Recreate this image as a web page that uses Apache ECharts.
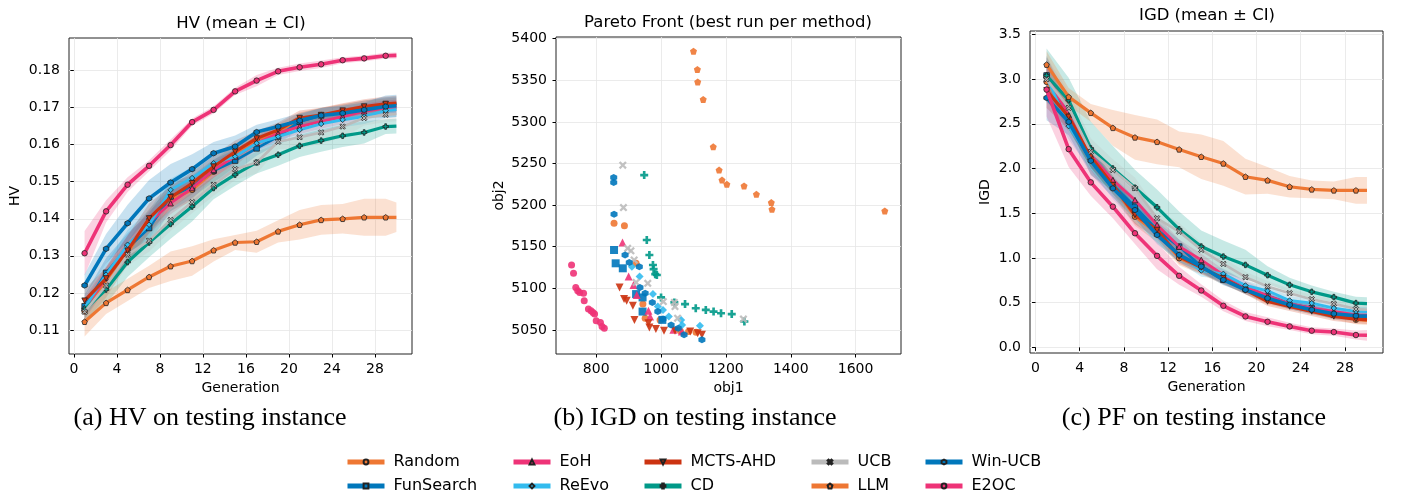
<!DOCTYPE html>
<html>
<head>
<meta charset="utf-8">
<title>HV / Pareto Front / IGD</title>
<script src="https://cdn.jsdelivr.net/npm/echarts@6/dist/echarts.min.js"></script>
<style>
html,body{margin:0;padding:0;background:#fff;}
#main{width:1401px;height:501px;}
</style>
</head>
<body>
<div id="main"></div>
<script>
// 方法名 / 颜色 / 标记
var methods = ['Random','FunSearch','EoH','ReEvo','MCTS-AHD','CD','UCB','LLM','Win-UCB','E2OC'];
var methodColors = ['#EE7733','#0077BB','#EE3377','#33BBEE','#CC3311','#009988','#BBBBBB','#EE7733','#0077BB','#EE3377'];

// generation (markers every 2 generations, the line runs on to 30)
var generations = [1,3,5,7,9,11,13,15,17,19,21,23,25,27,29,30];
var genTicks = [0,4,8,12,16,20,24,28];
var hvTicks = [0.11,0.12,0.13,0.14,0.15,0.16,0.17,0.18];
var igdTicks = [0,0.5,1,1.5,2,2.5,3,3.5];
var obj1Ticks = [800,1000,1200,1400,1600];
var obj2Ticks = [5050,5100,5150,5200,5250,5300,5350,5400];

// HV mean
var hvRandom    = [0.1150,0.1227,0.1308,0.1397,0.1451,0.1478,0.1527,0.1572,0.1613,0.1636,0.1667,0.1680,0.1690,0.1699,0.1705,0.1707];
var hvFunSearch = [0.1164,0.1254,0.1321,0.1375,0.1460,0.1487,0.1530,0.1557,0.1590,0.1622,0.1662,0.1679,0.1688,0.1699,0.1708,0.1710];
var hvEoH       = [0.1159,0.1240,0.1326,0.1390,0.1442,0.1483,0.1532,0.1568,0.1604,0.1631,0.1649,0.1663,0.1676,0.1690,0.1699,0.1701];
var hvReEvo     = [0.1159,0.1249,0.1330,0.1384,0.1478,0.1510,0.1550,0.1568,0.1604,0.1622,0.1640,0.1656,0.1667,0.1676,0.1692,0.1695];
var hvMcts      = [0.1179,0.1239,0.1314,0.1401,0.1458,0.1496,0.1541,0.1581,0.1617,0.1640,0.1672,0.1680,0.1692,0.1703,0.1710,0.1712];
var hvCD        = [0.1155,0.1209,0.1283,0.1336,0.1386,0.1433,0.1483,0.1519,0.1552,0.1573,0.1597,0.1611,0.1624,0.1633,0.1649,0.1650];
var hvUCB       = [0.1149,0.1220,0.1303,0.1341,0.1397,0.1445,0.1492,0.1534,0.1552,0.1608,0.1620,0.1633,0.1649,0.1672,0.1681,0.1683];
var hvLLM       = [0.1122,0.1173,0.1208,0.1243,0.1272,0.1286,0.1315,0.1336,0.1338,0.1366,0.1384,0.1397,0.1400,0.1404,0.1404,0.1404];
var hvWinUCB    = [0.1220,0.1319,0.1388,0.1455,0.1498,0.1534,0.1577,0.1595,0.1634,0.1649,0.1665,0.1679,0.1685,0.1694,0.1703,0.1705];
var hvE2OC      = [0.1307,0.1420,0.1492,0.1543,0.1599,0.1661,0.1694,0.1744,0.1773,0.1798,0.1809,0.1817,0.1828,0.1833,0.1840,0.1841];

// HV CI half width
var hvRandomCi    = [0.003,0.004,0.003,0.003,0.003,0.003,0.003,0.003,0.002,0.002,0.002,0.002,0.002,0.002,0.002,0.002];
var hvFunSearchCi = [0.003,0.004,0.004,0.004,0.004,0.003,0.003,0.003,0.002,0.002,0.002,0.002,0.002,0.002,0.002,0.002];
var hvEoHCi       = [0.003,0.003,0.003,0.003,0.003,0.003,0.002,0.002,0.002,0.002,0.002,0.002,0.002,0.002,0.002,0.002];
var hvReEvoCi     = [0.003,0.003,0.004,0.004,0.003,0.003,0.003,0.002,0.002,0.002,0.002,0.002,0.002,0.002,0.002,0.002];
var hvMctsCi      = [0.003,0.003,0.004,0.004,0.003,0.003,0.003,0.003,0.002,0.002,0.002,0.002,0.002,0.002,0.002,0.002];
var hvCDCi        = [0.003,0.004,0.004,0.004,0.004,0.004,0.003,0.003,0.003,0.003,0.003,0.003,0.003,0.003,0.002,0.002];
var hvUCBCi       = [0.003,0.003,0.003,0.003,0.003,0.003,0.003,0.003,0.003,0.002,0.003,0.003,0.003,0.002,0.002,0.002];
var hvLLMCi       = [0.004,0.003,0.003,0.003,0.004,0.004,0.003,0.002,0.003,0.003,0.004,0.004,0.004,0.005,0.005,0.004];
var hvWinUCBCi    = [0.003,0.004,0.005,0.005,0.005,0.004,0.003,0.003,0.002,0.002,0.002,0.002,0.002,0.002,0.003,0.003];
var hvE2OCCi      = [0.006,0.003,0.002,0.0015,0.0015,0.001,0.001,0.001,0.0015,0.001,0.001,0.001,0.0008,0.0008,0.0008,0.0008];

// IGD mean
var igdRandom    = [2.968,2.559,2.131,1.796,1.461,1.276,0.997,0.885,0.762,0.643,0.532,0.476,0.420,0.364,0.309,0.300];
var igdFunSearch = [3.040,2.585,2.131,1.815,1.573,1.313,1.127,0.904,0.755,0.662,0.576,0.487,0.439,0.364,0.346,0.340];
var igdEoH       = [3.040,2.596,2.149,1.871,1.647,1.369,1.127,0.978,0.811,0.681,0.576,0.487,0.439,0.402,0.364,0.360];
var igdReEvo     = [3.020,2.473,2.100,1.778,1.506,1.276,1.034,0.859,0.822,0.692,0.632,0.524,0.495,0.439,0.402,0.400];
var igdMcts      = [2.875,2.577,2.131,1.815,1.480,1.313,1.015,0.893,0.774,0.643,0.513,0.457,0.402,0.346,0.316,0.310];
var igdCD        = [3.040,2.763,2.224,2.000,1.785,1.566,1.320,1.127,1.015,0.922,0.807,0.699,0.621,0.562,0.495,0.490];
var igdUCB       = [2.997,2.678,2.187,1.982,1.778,1.443,1.294,1.090,0.933,0.785,0.681,0.606,0.539,0.487,0.428,0.420];
var igdLLM       = [3.161,2.800,2.622,2.454,2.347,2.298,2.213,2.131,2.056,1.908,1.867,1.796,1.766,1.755,1.755,1.755];
var igdWinUCB    = [2.789,2.521,2.086,1.778,1.536,1.257,1.034,0.904,0.755,0.643,0.550,0.476,0.420,0.376,0.353,0.350];
var igdE2OC      = [2.882,2.216,1.845,1.573,1.276,1.023,0.800,0.636,0.465,0.346,0.286,0.234,0.186,0.171,0.138,0.135];

// IGD CI half width
var igdRandomCi    = [0.20,0.15,0.12,0.10,0.10,0.10,0.08,0.07,0.06,0.05,0.05,0.05,0.05,0.05,0.05,0.05];
var igdFunSearchCi = [0.22,0.15,0.12,0.10,0.10,0.09,0.08,0.07,0.06,0.05,0.05,0.05,0.05,0.05,0.05,0.05];
var igdEoHCi       = [0.20,0.15,0.13,0.10,0.10,0.10,0.08,0.07,0.06,0.06,0.05,0.05,0.05,0.05,0.05,0.05];
var igdReEvoCi     = [0.22,0.15,0.12,0.12,0.12,0.10,0.08,0.07,0.06,0.05,0.05,0.05,0.05,0.05,0.05,0.05];
var igdMctsCi      = [0.20,0.14,0.12,0.10,0.10,0.10,0.08,0.07,0.06,0.05,0.05,0.05,0.05,0.05,0.05,0.05];
var igdCDCi        = [0.30,0.25,0.30,0.25,0.20,0.20,0.20,0.18,0.18,0.17,0.10,0.08,0.07,0.06,0.07,0.07];
var igdUCBCi       = [0.25,0.18,0.15,0.12,0.12,0.10,0.10,0.08,0.07,0.06,0.06,0.05,0.05,0.05,0.05,0.05];
var igdLLMCi       = [0.15,0.10,0.10,0.20,0.25,0.25,0.20,0.25,0.25,0.20,0.15,0.12,0.10,0.10,0.15,0.15];
var igdWinUCBCi    = [0.25,0.15,0.15,0.10,0.10,0.10,0.08,0.06,0.05,0.05,0.05,0.05,0.05,0.05,0.05,0.05];
var igdE2OCCi      = [0.30,0.20,0.15,0.13,0.12,0.15,0.10,0.07,0.06,0.05,0.05,0.04,0.04,0.04,0.05,0.06];

// Pareto front points [obj1, obj2]
var pfRandom = [[855,5178],[887,5175],[923,5130],[944,5081],[951,5064],[997,5062],[1059,5049],[1085,5048],[1108,5047]];
var pfFunSearch = [[855,5146],[860,5130],[882,5124],[923,5093],[943,5089],[943,5072],[1004,5062]];
var pfEoH = [[881,5155],[900,5114],[915,5104],[925,5092],[961,5073],[966,5066],[1038,5050],[1064,5048]];
var pfReEvo = [[910,5126],[934,5114],[975,5093],[990,5078],[1006,5074],[1024,5066],[1062,5062],[1065,5056],[1120,5055]];
var pfMcts = [[872,5101],[886,5087],[894,5085],[913,5079],[918,5062],[961,5058],[964,5053],[984,5051],[1009,5049],[1043,5049],[1090,5048],[1113,5046],[1126,5044]];
var pfCD = [[948,5236],[956,5158],[964,5140],[975,5128],[977,5123],[982,5117],[987,5116],[1000,5089],[1041,5083],[1074,5081],[1107,5076],[1138,5074],[1162,5072],[1185,5070],[1218,5069],[1257,5060]];
var pfUCB = [[882,5248],[884,5197],[897,5148],[907,5145],[917,5134],[923,5107],[959,5106],[1007,5084],[1041,5083],[1043,5078],[1051,5064],[1254,5063]];
var pfLLM = [[1100,5385],[1112,5363],[1113,5348],[1130,5327],[1161,5270],[1179,5242],[1188,5230],[1203,5225],[1256,5223],[1294,5213],[1340,5203],[1342,5195],[1690,5193]];
var pfWinUCB = [[854,5233],[854,5227],[855,5189],[889,5140],[902,5131],[933,5126],[935,5101],[951,5094],[973,5083],[990,5072],[1006,5063],[1031,5056],[1053,5052],[1071,5044],[1126,5038]];
var pfE2OC = [[724,5128],[730,5118],[737,5101],[743,5097],[749,5095],[761,5094],[763,5085],[776,5075],[784,5073],[790,5071],[795,5069],[800,5061],[813,5059],[818,5054],[825,5052]];

var hvMeans = [hvRandom,hvFunSearch,hvEoH,hvReEvo,hvMcts,hvCD,hvUCB,hvLLM,hvWinUCB,hvE2OC];
var hvCis = [hvRandomCi,hvFunSearchCi,hvEoHCi,hvReEvoCi,hvMctsCi,hvCDCi,hvUCBCi,hvLLMCi,hvWinUCBCi,hvE2OCCi];
var igdMeans = [igdRandom,igdFunSearch,igdEoH,igdReEvo,igdMcts,igdCD,igdUCB,igdLLM,igdWinUCB,igdE2OC];
var igdCis = [igdRandomCi,igdFunSearchCi,igdEoHCi,igdReEvoCi,igdMctsCi,igdCDCi,igdUCBCi,igdLLMCi,igdWinUCBCi,igdE2OCCi];
var pfPoints = [pfRandom,pfFunSearch,pfEoH,pfReEvo,pfMcts,pfCD,pfUCB,pfLLM,pfWinUCB,pfE2OC];

// 标记形状
var SYM_PENTAGON = 'path://M0,-1L0.951,-0.309L0.588,0.809L-0.588,0.809L-0.951,-0.309Z';
var SYM_HEXAGON = 'path://M0,-1L0.866,-0.5L0.866,0.5L0,1L-0.866,0.5L-0.866,-0.5Z';
var SYM_PLUS = 'path://M-0.33,-1L0.33,-1L0.33,-0.33L1,-0.33L1,0.33L0.33,0.33L0.33,1L-0.33,1L-0.33,0.33L-1,0.33L-1,-0.33L-0.33,-0.33Z';
var SYM_X = 'path://M-1,-0.6L-0.6,-1L0,-0.4L0.6,-1L1,-0.6L0.4,0L1,0.6L0.6,1L0,0.4L-0.6,1L-1,0.6L-0.4,0Z';
var methodSymbols = ['circle','rect','triangle','diamond','triangle',SYM_PLUS,SYM_X,SYM_PENTAGON,SYM_HEXAGON,'circle'];
var methodRotate = [0,0,0,0,180,0,0,0,0,0];
var lineWidths = [2.8,2.8,2.8,2.8,3.2,3.2,2.6,3.2,3.6,3.6];
var scatterSizes = [7,8,8,8,8,8,8,7,7,7];

var FONT = 'DejaVu Sans';

var myChart = echarts.init(document.getElementById('main'));
myChart.setOption(buildOption());

function rgba(hex, a){
    var n = parseInt(hex.slice(1), 16);
    return 'rgba(' + ((n >> 16) & 255) + ',' + ((n >> 8) & 255) + ',' + (n & 255) + ',' + a + ')';
}

// CI 阴影带（custom 多边形，用坐标轴换算）
function bandSeries(mean, ci, color, axisIdx){
    var data = [];
    for(var i=0;i<generations.length;i++){
        data.push([generations[i], mean[i]-ci[i], mean[i]+ci[i]]);
    }
    return {
        type:'custom',
        xAxisIndex:axisIdx,
        yAxisIndex:axisIdx,
        silent:true,
        z:1,
        data:data,
        encode:{x:0, y:[1,2]},
        renderItem:function(params, api){
            if(params.dataIndex !== 0) return null;
            var pts = [];
            for(var k=0;k<data.length;k++) pts.push(api.coord([data[k][0], data[k][2]]));
            for(var k2=data.length-1;k2>=0;k2--) pts.push(api.coord([data[k2][0], data[k2][1]]));
            return {type:'polygon', shape:{points:pts}, style:{fill:rgba(color,0.22), stroke:null}};
        }
    };
}

function lineSeries(idx, mean, axisIdx){
    var data = [];
    for(var i=0;i<generations.length;i++){
        if(i === generations.length-1){
            data.push({value:[generations[i], mean[i]], symbol:'none'});
        }else{
            data.push([generations[i], mean[i]]);
        }
    }
    return {
        name:methods[idx],
        type:'line',
        xAxisIndex:axisIdx,
        yAxisIndex:axisIdx,
        data:data,
        z:3+idx,
        symbol:methodSymbols[idx],
        symbolRotate:methodRotate[idx],
        symbolSize:5.5,
        showAllSymbol:true,
        lineStyle:{width:lineWidths[idx], color:methodColors[idx]},
        itemStyle:{color:methodColors[idx], borderColor:'#222', borderWidth:0.8},
        emphasis:{disabled:true}
    };
}

function scatterSeries(idx){
    return {
        name:methods[idx],
        type:'scatter',
        xAxisIndex:1,
        yAxisIndex:1,
        data:pfPoints[idx],
        z:3+idx,
        symbol:methodSymbols[idx],
        symbolRotate:methodRotate[idx],
        symbolSize:scatterSizes[idx],
        itemStyle:{color:methodColors[idx], opacity:0.9},
        emphasis:{disabled:true}
    };
}

function valueAxis(gridIdx, min, max, ticks, name, nameGap, fmt, isY){
    return {
        type:'value',
        gridIndex:gridIdx,
        min:min,
        max:max,
        name:name,
        nameLocation:'middle',
        nameGap:nameGap,
        nameTextStyle:{fontFamily:FONT, fontSize:14, color:'#000'},
        axisLine:{show:false},
        axisTick:{show:true, inside:false, length:3.5, customValues:ticks, lineStyle:{color:'#000', width:1}},
        axisLabel:{show:true, customValues:ticks, fontFamily:FONT, fontSize:14, color:'#000', margin:isY ? 9 : 8,
            formatter:function(v){ return fmt(v); }},
        splitLine:{show:true, lineStyle:{color:'#e6e6e6', width:0.8}}
    };
}

function buildOption(){
    var series = [];
    var i;
    // HV
    for(i=0;i<methods.length;i++) series.push(bandSeries(hvMeans[i], hvCis[i], methodColors[i], 0));
    for(i=0;i<methods.length;i++) series.push(lineSeries(i, hvMeans[i], 0));
    // Pareto front
    for(i=0;i<methods.length;i++) series.push(scatterSeries(i));
    // IGD
    for(i=0;i<methods.length;i++) series.push(bandSeries(igdMeans[i], igdCis[i], methodColors[i], 2));
    for(i=0;i<methods.length;i++) series.push(lineSeries(i, igdMeans[i], 2));

    // 图例：5列 x 2行
    var legendLeft = [345, 511, 642, 809, 923];
    var legendTop = [454, 478];
    var legends = [];
    for(i=0;i<methods.length;i++){
        legends.push({
            data:[methods[i]],
            left:legendLeft[Math.floor(i/2)],
            top:legendTop[i%2],
            padding:0,
            itemWidth:37,
            itemHeight:6,
            selectedMode:false,
            lineStyle:{width:5},
            textStyle:{fontFamily:FONT, fontSize:16, color:'#000', padding:[0,0,0,4]}
        });
    }

    var fmt2 = function(v){ return v.toFixed(2); };
    var fmt1 = function(v){ return v.toFixed(1); };
    var fmt0 = function(v){ return String(Math.round(v)); };

    return {
        backgroundColor:'#fff',
        animation:false,
        grid:[
            {left:69, top:38, width:343, height:316, show:true, borderColor:'#222', borderWidth:1, backgroundColor:'transparent', outerBoundsMode:'none'},
            {left:556, top:37, width:345, height:317, show:true, borderColor:'#222', borderWidth:1, backgroundColor:'transparent', outerBoundsMode:'none'},
            {left:1030, top:31, width:353, height:322, show:true, borderColor:'#222', borderWidth:1, backgroundColor:'transparent', outerBoundsMode:'none'}
        ],
        xAxis:[
            valueAxis(0, -0.45, 31.45, genTicks, 'Generation', 26, fmt0, false),
            valueAxis(1, 676, 1740, obj1Ticks, 'obj1', 26, fmt0, false),
            valueAxis(2, -0.5, 31.45, genTicks, 'Generation', 26, fmt0, false)
        ],
        yAxis:[
            valueAxis(0, 0.1035, 0.1888, hvTicks, 'HV', 47, fmt2, true),
            valueAxis(1, 5021, 5402, obj2Ticks, 'obj2', 50, fmt0, true),
            valueAxis(2, -0.063, 3.537, igdTicks, 'IGD', 38, fmt1, true)
        ],
        legend:legends,
        graphic:[
            {type:'text', x:241, y:24, style:{text:'HV (mean \u00b1 CI)', font:'16.5px "DejaVu Sans"', fill:'#000', align:'center', verticalAlign:'middle'}},
            {type:'text', x:728, y:23, style:{text:'Pareto Front (best run per method)', font:'16.5px "DejaVu Sans"', fill:'#000', align:'center', verticalAlign:'middle'}},
            {type:'text', x:1207, y:16, style:{text:'IGD (mean \u00b1 CI)', font:'16.5px "DejaVu Sans"', fill:'#000', align:'center', verticalAlign:'middle'}},
            {type:'text', x:210, y:418, style:{text:'(a) HV on testing instance', font:'26px "Liberation Serif"', fill:'#000', align:'center', verticalAlign:'middle'}},
            {type:'text', x:695, y:418, style:{text:'(b) IGD on testing instance', font:'26px "Liberation Serif"', fill:'#000', align:'center', verticalAlign:'middle'}},
            {type:'text', x:1194, y:418, style:{text:'(c) PF on testing instance', font:'26px "Liberation Serif"', fill:'#000', align:'center', verticalAlign:'middle'}}
        ],
        series:series
    };
}
</script>
</body>
</html>
